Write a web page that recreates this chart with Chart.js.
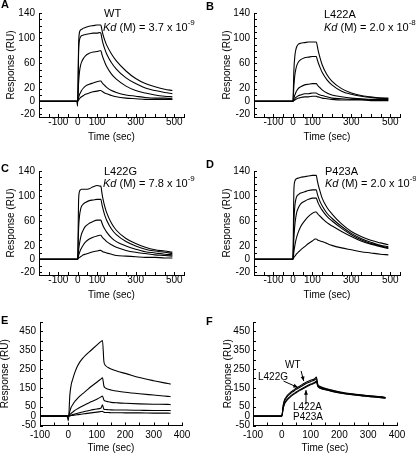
<!doctype html>
<html lang="en">
<head>
<meta charset="UTF-8" />
<title>SPR sensorgrams</title>
<script src="https://cdn.jsdelivr.net/npm/chart.js@4"></script>
<style>
  body { margin: 0; background: #fff; }
  #fig { position: relative; width: 416px; height: 455px; font-family: "Liberation Sans", Arial, Helvetica, sans-serif; color: #000; }
  #fig canvas { position: absolute; }
  .note { position: absolute; font-size: 11px; line-height: 12px; white-space: nowrap; }
  .panel { position: absolute; font-weight: bold; font-size: 11px; line-height: 12px; }
  .note sup { font-size: 8px; position: relative; top: -1px; line-height: 0; }
</style>
</head>
<body>
<div id="fig">
  <canvas id="chA" width="208" height="150" style="left:0;top:0"></canvas>
  <canvas id="chB" width="208" height="150" style="left:208px;top:0"></canvas>
  <canvas id="chC" width="208" height="150" style="left:0;top:158px"></canvas>
  <canvas id="chD" width="208" height="150" style="left:208px;top:158px"></canvas>
  <canvas id="chE" width="208" height="155" style="left:0;top:300px"></canvas>
  <canvas id="chF" width="208" height="155" style="left:208px;top:300px"></canvas>

  <div class="panel" style="left:1px;top:-2px">A</div>
  <div class="panel" style="left:206px;top:0px">B</div>
  <div class="panel" style="left:1px;top:162px">C</div>
  <div class="panel" style="left:206px;top:158px">D</div>
  <div class="panel" style="left:1px;top:314px">E</div>
  <div class="panel" style="left:206px;top:315px">F</div>

  <div class="note" style="left:104px;top:7px">WT</div>
  <div class="note" style="left:103px;top:21px"><i>Kd</i> (M) = 3.7 x 10<sup>-9</sup></div>
  <div class="note" style="left:324px;top:8px">L422A</div>
  <div class="note" style="left:324px;top:21px"><i>Kd</i> (M) = 2.0 x 10<sup>-8</sup></div>
  <div class="note" style="left:104px;top:165px">L422G</div>
  <div class="note" style="left:103px;top:177px"><i>Kd</i> (M) = 7.8 x 10<sup>-9</sup></div>
  <div class="note" style="left:325px;top:165px">P423A</div>
  <div class="note" style="left:325px;top:177px"><i>Kd</i> (M) = 2.0 x 10<sup>-9</sup></div>

  <div class="note" style="left:285px;top:359px;font-size:10px">WT</div>
  <div class="note" style="left:258px;top:371px;font-size:10px">L422G</div>
  <div class="note" style="left:293px;top:401px;font-size:10px">L422A</div>
  <div class="note" style="left:293px;top:411px;font-size:10px">P423A</div>
</div>

<script>
// time points (sec) for panels A-D and E-F
const timeAD = [-200, -150, -100, -50, -5, 0, 5, 10, 15, 20, 30, 40, 60, 80, 100, 115, 120, 125, 130, 140, 150, 175, 200, 250, 300, 350, 400, 450, 490];
const timeEF = [-100, -50, -5, 0, 5, 10, 15, 20, 30, 40, 50, 60, 80, 100, 115, 120, 125, 130, 140, 150, 175, 200, 250, 300, 350, 360];

// A - WT
const wt1 = [0, 0, 0, 0, 0, -8, 90, 110, 113, 114, 116, 117, 119, 120, 121, 121, 121, 114, 107, 97, 89, 75, 64, 48, 36, 28, 23, 19, 17];
const wt2 = [0, 0, 0, 0, 0, 0, 80, 98, 102, 104, 105, 106, 107, 108, 108, 109, 108, 100, 93, 83, 75, 61, 51, 37, 28, 21, 17, 14, 12];
const wt3 = [0, 0, 0, 0, 0, 0, 30, 48, 57, 62, 68, 72, 76, 78, 79, 80, 80, 75, 70, 62, 55, 43, 35, 24, 17, 13, 10, 8, 7];
const wt4 = [0, 0, 0, 0, 0, 0, 6, 11, 14, 17, 21, 24, 27, 29, 31, 32, 32, 30, 28, 25, 22, 17, 14, 10, 8, 6, 5, 5, 4];
const wt5 = [0, 0, 0, 0, 0, 0, 2, 4, 6, 7, 9, 11, 13, 15, 16, 17, 17, 16, 15, 13, 12, 9, 7, 5, 4, 3, 3, 3, 3];

// B - L422A
const l422a1 = [0, 0, 0, 0, 0, 0, 50, 72, 82, 87, 91, 92, 93, 94, 94, 94, 94, 88, 80, 68, 58, 42, 32, 20, 13, 9, 7, 5, 5];
const l422a2 = [0, 0, 0, 0, 0, 0, 25, 42, 51, 57, 63, 66, 69, 70, 71, 71, 71, 66, 61, 53, 46, 34, 26, 16, 11, 8, 6, 5, 4];
const l422a3 = [0, 0, 0, 0, 0, 0, 5, 10, 14, 17, 21, 23, 26, 27, 28, 28, 28, 26, 24, 21, 18, 13, 10, 7, 5, 4, 3, 3, 3];
const l422a4 = [0, 0, 0, 0, 0, 0, 2, 4, 6, 7, 9, 10, 12, 12, 13, 13, 13, 12, 11, 10, 9, 7, 5, 4, 3, 3, 2, 2, 2];
const l422a5 = [0, 0, 0, 0, 0, 0, 1, 2, 3, 4, 5, 6, 7, 7, 8, 8, 8, 7, 7, 6, 5, 4, 3, 2, 2, 2, 1, 1, 1];

// C - L422G
const l422g1 = [0, 0, 0, 0, 0, 0, 95, 108, 110, 111, 111, 111, 112, 115, 117, 116, 116, 106, 97, 84, 74, 57, 46, 33, 25, 19, 15, 13, 11];
const l422g2 = [0, 0, 0, 0, 0, 0, 50, 70, 79, 84, 88, 90, 93, 94, 95, 95, 95, 88, 81, 70, 62, 48, 39, 28, 21, 16, 13, 11, 9];
const l422g3 = [0, 0, 0, 0, 0, 0, 15, 26, 34, 40, 47, 52, 57, 60, 62, 62, 62, 58, 54, 48, 43, 34, 28, 21, 16, 12, 10, 8, 7];
const l422g4 = [0, 0, 0, 0, 0, 0, 6, 11, 15, 18, 23, 27, 32, 35, 37, 38, 38, 36, 34, 31, 28, 23, 19, 14, 11, 9, 7, 6, 5];
const l422g5 = [0, 0, 0, 0, 0, 0, 2, 3, 4, 5, 7, 8, 10, 12, 13, 14, 14, 13, 12, 11, 10, 8, 6, 5, 4, 3, 3, 2, 2];

// D - P423A
const p423a1 = [0, 0, 0, 0, 0, 0, 110, 124, 127, 128, 129, 130, 131, 132, 133, 133, 133, 125, 118, 107, 97, 82, 72, 56, 44, 36, 30, 26, 23];
const p423a2 = [0, 0, 0, 0, 0, 0, 60, 85, 95, 100, 103, 105, 107, 109, 110, 110, 110, 104, 99, 91, 85, 73, 65, 52, 41, 33, 27, 22, 20];
const p423a3 = [0, 0, 0, 0, 0, 0, 35, 55, 67, 75, 83, 88, 92, 95, 97, 97, 97, 93, 89, 83, 78, 68, 61, 49, 39, 31, 25, 21, 18];
const p423a4 = [0, 0, 0, 0, 0, 0, 12, 22, 30, 36, 45, 52, 61, 68, 73, 75, 75, 73, 71, 68, 65, 58, 53, 44, 36, 29, 24, 20, 17];
const p423a5 = [0, 0, 0, 0, 0, 0, 3, 5, 7, 9, 12, 15, 20, 25, 29, 32, 32, 31, 30, 29, 28, 25, 22, 18, 15, 12, 10, 8, 7];

// E
const e1 = [0, 0, 0, -25, 110, 168, 195, 220, 260, 287, 307, 323, 350, 377, 397, 402, 290, 270, 258, 250, 237, 227, 205, 188, 173, 170];
const e2 = [0, 0, 0, 0, 25, 48, 60, 72, 90, 106, 119, 131, 157, 180, 198, 204, 160, 150, 143, 139, 132, 127, 119, 112, 105, 103];
const e3 = [0, 0, 0, 0, 8, 15, 21, 27, 37, 46, 54, 62, 76, 90, 102, 107, 85, 80, 76, 73, 70, 68, 65, 63, 62, 61];
const e4 = [0, 0, 0, 0, 3, 6, 8, 10, 14, 18, 22, 26, 32, 38, 43, 60, 36, 35, 34, 33, 32, 32, 31, 30, 30, 29];
const e5 = [0, 0, 0, 0, 1, 3, 4, 5, 7, 9, 11, 13, 17, 21, 24, 25, 20, 19, 19, 18, 18, 17, 17, 16, 16, 15];

// F - one curve per variant
const fL422G = [0, 0, 0, 0, 60, 89, 100, 112, 126, 137, 148, 157, 176, 190, 200, 208, 168, 160, 153, 148, 138, 129, 117, 109, 102, 99];
const fWT = [0, 0, 0, 0, 55, 82, 95, 106, 120, 131, 142, 151, 169, 183, 193, 200, 165, 157, 150, 145, 136, 127, 116, 108, 101, 98];
const fL422A = [0, 0, 0, 0, 45, 70, 82, 92, 106, 118, 128, 138, 155, 170, 180, 186, 160, 152, 146, 141, 132, 124, 113, 105, 98, 96];
const fP423A = [0, 0, 0, 0, 42, 66, 78, 88, 102, 114, 124, 134, 151, 166, 176, 182, 158, 150, 144, 140, 131, 123, 112, 104, 97, 95];

// ticks and labels
const xTicksAD = [-200, -150, -100, -50, 0, 50, 100, 150, 200, 250, 300, 350, 400, 450, 500, 550];
const xLabelsAD = [-100, 0, 100, 300, 500];
const yTicksAD = [-20, -10, 0, 10, 20, 30, 40, 50, 60, 70, 80, 90, 100, 110, 120, 130, 140];
const yLabelsAD = [-20, 0, 20, 60, 100, 140];
const xTicksEF = [-100, -50, 0, 50, 100, 150, 200, 250, 300, 350, 400];
const xLabelsEF = [-100, 0, 100, 200, 300, 400];
const yTicksEF = [-50, 0, 50, 100, 150, 200, 250, 300, 350, 400, 450, 500];
const yLabelsEF = [-50, 0, 50, 150, 250, 350, 450];

// arrows of panel F, in data units
const arrowsF = [
  { from: [6, 186], to: [56, 152] },
  { from: [67, 240], to: [76, 186] },
  { from: [84, 63], to: [84, 138] }
];

const font = { family: '"Liberation Sans", Arial, Helvetica, sans-serif', size: 10, lineHeight: 1 };

/* inward tick marks */
const innerTicks = {
  id: 'innerTicks',
  afterDraw(chart) {
    const { ctx, chartArea: a, scales: { x, y } } = chart;
    ctx.save();
    ctx.strokeStyle = '#000';
    ctx.lineWidth = 1;
    ctx.beginPath();
    x.ticks.forEach(t => {
      const p = Math.round(x.getPixelForValue(t.value)) + 0.5;
      ctx.moveTo(p, a.bottom);
      ctx.lineTo(p, a.bottom - 3);
    });
    y.ticks.forEach(t => {
      const p = Math.round(y.getPixelForValue(t.value)) + 0.5;
      ctx.moveTo(a.left, p);
      ctx.lineTo(a.left + 3, p);
    });
    ctx.stroke();
    ctx.restore();
  }
};

const arrowPlugin = {
  id: 'arrows',
  afterDatasetsDraw(chart, args, opts) {
    if (!opts.list) return;
    const { ctx, scales: { x, y } } = chart;
    ctx.save();
    ctx.strokeStyle = '#000';
    ctx.fillStyle = '#000';
    ctx.lineWidth = 1;
    opts.list.forEach(ar => {
      const x0 = x.getPixelForValue(ar.from[0]), y0 = y.getPixelForValue(ar.from[1]);
      const x1 = x.getPixelForValue(ar.to[0]), y1 = y.getPixelForValue(ar.to[1]);
      const ang = Math.atan2(y1 - y0, x1 - x0);
      ctx.beginPath();
      ctx.moveTo(x0, y0);
      ctx.lineTo(x1, y1);
      ctx.stroke();
      ctx.beginPath();
      ctx.moveTo(x1, y1);
      ctx.lineTo(x1 - 5 * Math.cos(ang - 0.4), y1 - 5 * Math.sin(ang - 0.4));
      ctx.lineTo(x1 - 5 * Math.cos(ang + 0.4), y1 - 5 * Math.sin(ang + 0.4));
      ctx.closePath();
      ctx.fill();
    });
    ctx.restore();
  }
};

function makePanel(id, c) {
  const datasets = c.series.map(s => ({
    data: c.time.map((t, i) => ({ x: t, y: s[i] })),
    borderColor: '#000',
    borderWidth: 1.1,
    pointRadius: 0,
    fill: false,
    cubicInterpolationMode: 'monotone'
  }));
  return new Chart(document.getElementById(id), {
    type: 'line',
    data: { datasets: datasets },
    options: {
      responsive: false,
      animation: false,
      devicePixelRatio: 1,
      layout: { padding: { top: c.padTop, right: c.padRight, left: 0, bottom: 0 } },
      plugins: { legend: { display: false }, tooltip: { enabled: false }, arrows: { list: c.arrows } },
      scales: {
        x: {
          type: 'linear', min: c.xMin, max: c.xMax,
          afterFit: s => { s.height = c.xAxisH; },
          afterBuildTicks: s => { s.ticks = c.xTicks.map(v => ({ value: v })); },
          grid: { display: false, drawTicks: false },
          border: { color: '#000', width: 1 },
          ticks: {
            autoSkip: false, maxRotation: 0, color: '#000', font: font, padding: c.xPad,
            callback: v => c.xLabels.includes(v) ? String(v) : ''
          },
          title: { display: true, text: 'Time (sec)', color: '#000', font: font, padding: { top: 0, bottom: c.xTitlePad } }
        },
        y: {
          type: 'linear', min: c.yMin, max: c.yMax,
          afterFit: s => { s.width = c.yAxisW; },
          afterBuildTicks: s => { s.ticks = c.yTicks.map(v => ({ value: v })); },
          grid: { display: false, drawTicks: false },
          border: { color: '#000', width: 1 },
          ticks: {
            autoSkip: false, color: '#000', font: font, padding: c.yPad,
            callback: v => c.yLabels.includes(v) ? String(v) : ''
          },
          title: { display: true, text: 'Response (RU)', color: '#000', font: font, padding: { top: c.yTitlePad, bottom: 0 } }
        }
      }
    },
    plugins: [innerTicks, arrowPlugin]
  });
}

const leftAD = { time: timeAD, xMin: -200, xMax: 550, yMin: -25, yMax: 140, xTicks: xTicksAD, xLabels: xLabelsAD, yTicks: yTicksAD, yLabels: yLabelsAD,
  padTop: 13, padRight: 24, xAxisH: 33, yAxisW: 39, xPad: 0, xTitlePad: 8, yPad: 4, yTitlePad: 6 };
const rightAD = Object.assign({}, leftAD, { padRight: 16, yAxisW: 46, yTitlePad: 14 });

makePanel('chA', Object.assign({}, leftAD, { series: [wt1, wt2, wt3, wt4, wt5] }));
makePanel('chB', Object.assign({}, rightAD, { series: [l422a1, l422a2, l422a3, l422a4, l422a5] }));
makePanel('chC', Object.assign({}, leftAD, { series: [l422g1, l422g2, l422g3, l422g4, l422g5] }));
makePanel('chD', Object.assign({}, rightAD, { series: [p423a1, p423a2, p423a3, p423a4, p423a5] }));

const baseEF = { time: timeEF, xMin: -100, xMax: 400, yMin: -50, yMax: 500, xTicks: xTicksEF, xLabels: xLabelsEF, yTicks: yTicksEF, yLabels: yLabelsEF,
  padTop: 22, xAxisH: 29.5, xPad: 5, xTitlePad: 2 };
makePanel('chE', Object.assign({}, baseEF, { series: [e1, e2, e3, e4, e5], padRight: 26, yAxisW: 40, yPad: 4, yTitlePad: 0 }));
makePanel('chF', Object.assign({}, baseEF, { series: [fL422G, fWT, fL422A, fP423A], padRight: 19, yAxisW: 45, yPad: 3, yTitlePad: 15, arrows: arrowsF }));
</script>
</body>
</html>
